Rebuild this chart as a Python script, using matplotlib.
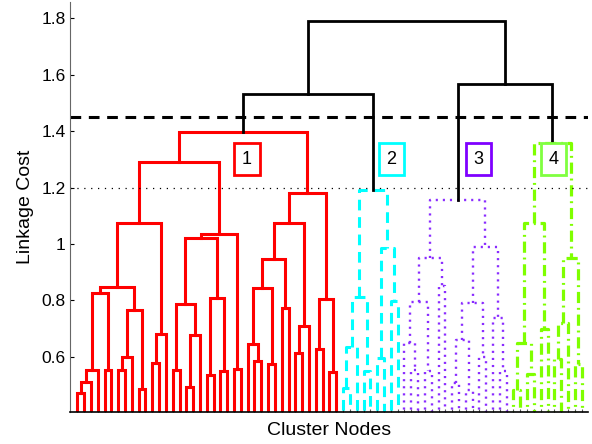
import numpy as np
import matplotlib.pyplot as plt

plt.rcParams['font.family'] = ['Liberation Sans', 'DejaVu Sans']

# tree nodes are (merge height, left, right); 0 is a leaf
RED = (1.396,
       (1.289,
        (1.075,
         (0.848,
          (0.827, (0.553, (0.509, (0.472, 0, 0), 0), 0), (0.553, 0, 0)),
          (0.766, (0.600, (0.553, 0, 0), 0), (0.485, 0, 0))),
         (0.680, (0.579, 0, 0), 0)),
        (1.034,
         (1.020,
          (0.787, (0.553, 0, 0), (0.677, (0.494, 0, 0), 0)),
          (0.807, (0.535, 0, 0), (0.549, 0, 0))),
         (0.556, 0, 0))),
       (1.182,
        (1.073,
         (0.946,
          (0.843, (0.645, 0, (0.585, 0, 0)), (0.573, 0, 0)),
          (0.774, 0, 0)),
         (0.710, (0.615, 0, 0), 0)),
        (0.805, (0.627, 0, 0), (0.545, 0, 0))))

CYAN = (1.191,
        (0.813, (0.635, (0.490, 0, 0), 0), (0.550, 0, 0)),
        (0.984, (0.594, 0, 0), (0.799, 0, 0)))

PURPLE = (1.155,
          (0.949,
           (0.795, (0.647, 0, (0.553, 0, 0)), (0.550, 0, 0)),
           (0.850, 0, 0)),
          (0.990,
           (0.789, (0.659, (0.508, 0, 0), (0.482, 0, 0)), (0.600, 0, 0)),
           (0.736, 0, (0.550, 0, 0))))

GREEN = (1.357,
         (1.075, (0.647, (0.482, 0, 0), (0.540, 0, 0)), (0.700, 0, 0)),
         (0.949, (0.718, (0.591, 0, 0), 0), (0.576, 0, 0)))

# black links above the cut
ROOT = 1.792
LEFT_TOP = 1.530   # red + cyan
RIGHT_TOP = 1.566  # purple + green

CUT_DASHED = 1.45
CUT_DOTTED = 1.2

LABELS = ['1', '2', '3', '4']
LABEL_X = [25.9, 47.1, 59.9, 70.9]
LABEL_Y = 1.30


def layout(node, pos):
    if node == 0:
        pos[0] += 1
        return pos[0], 0.0, []
    h, l, r = node
    xl, hl, sl = layout(l, pos)
    xr, hr, sr = layout(r, pos)
    link = ([xl, xl, xr, xr], [hl, h, h, hr])
    return (xl + xr) / 2.0, h, sl + sr + [link]


fig = plt.figure(figsize=(5.92, 4.44), dpi=100)
ax = fig.add_axes([0.119, 0.0727, 0.875, 0.9228])

styles = [
    (RED, '#ff0000', dict(linestyle='-', linewidth=2.2)),
    (CYAN, '#00ffff', dict(linestyle=(0, (3.5, 2.2)), linewidth=2.2)),
    (PURPLE, '#8a2cff', dict(linestyle=(0, (0.9, 2.1)), linewidth=1.7)),
    (GREEN, '#7fff00', dict(linestyle=(0, (3.5, 1.5, 0.6, 1.5)), linewidth=2.3)),
]

pos = [0]
tops = []
for tree, col, kw in styles:
    x, h, links = layout(tree, pos)
    tops.append((x, h))
    for xs, ys in links:
        ax.plot(xs, ys, color=col, solid_joinstyle='miter', **kw)
n_leaves = pos[0]

black = dict(color='black', linewidth=2.0, solid_joinstyle='miter')
(x1, h1), (x2, h2), (x3, h3), (x4, h4) = tops
xa = (x1 + x2) / 2.0
xb = (x3 + x4) / 2.0
ax.plot([x1, x1, x2, x2], [h1, LEFT_TOP, LEFT_TOP, h2], **black)
ax.plot([x3, x3, x4, x4], [h3, RIGHT_TOP, RIGHT_TOP, h4], **black)
ax.plot([xa, xa, xb, xb], [LEFT_TOP, ROOT, ROOT, RIGHT_TOP], **black)

ax.axhline(CUT_DASHED, color='black', linewidth=2.2, linestyle=(0, (3.5, 2.5)))
ax.axhline(CUT_DOTTED, color='black', linewidth=0.9, linestyle=(0, (1, 4.5)))

box_cols = ['#ff0000', '#00ffff', '#7f00ff', '#80ff40']
for s, lx, bc in zip(LABELS, LABEL_X, box_cols):
    ax.text(lx, LABEL_Y, s, ha='center', va='center', fontsize=13,
            zorder=5,
            bbox=dict(boxstyle='square,pad=0.42', facecolor='white',
                      edgecolor=bc, linewidth=2.0))

ax.set_xlim(0, n_leaves + 1)
ax.set_ylim(0.405, 1.858)
ax.set_xticks(np.arange(1, n_leaves + 1))
ax.set_xticklabels([])
ax.set_yticks([0.6, 0.8, 1.0, 1.2, 1.4, 1.6, 1.8])
ax.set_yticklabels(['0.6', '0.8', '1', '1.2', '1.4', '1.6', '1.8'])
ax.tick_params(direction='in', length=3, labelsize=12.5)
ax.tick_params(axis='x', length=2.5, color='#555555')
ax.spines['top'].set_visible(False)
ax.spines['right'].set_visible(False)
ax.spines['left'].set_color('#666666')
ax.spines['bottom'].set_linewidth(1.2)
ax.set_ylabel('Linkage Cost', fontsize=14, labelpad=5)
ax.set_xlabel('Cluster Nodes', fontsize=14, labelpad=4)

fig.savefig('out.png', dpi=100)
